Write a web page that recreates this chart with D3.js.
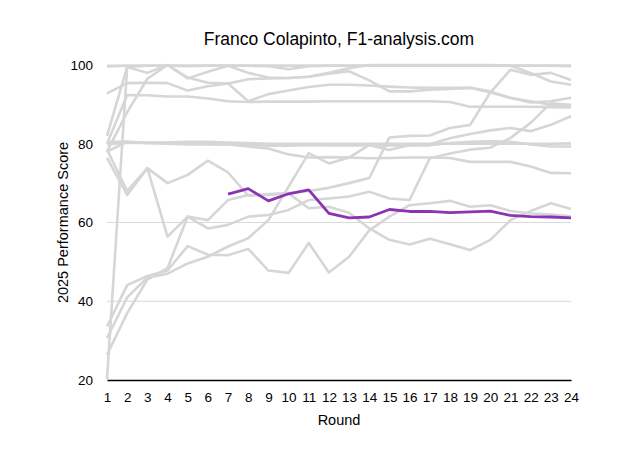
<!DOCTYPE html>
<html>
<head>
<meta charset="utf-8">
<script src="https://cdn.jsdelivr.net/npm/d3@7"></script>
<style>
  body { margin: 0; background: #fff; }
  text { font-family: "Liberation Sans", Arial, sans-serif; fill: #000; }
</style>
</head>
<body>
<div id="chart"></div>
<script>
// rounds on the x axis
var rounds = d3.range(1, 25);
var yTicks = [20, 40, 60, 80, 100];

// the highlighted driver (starts at round 7)
var colapinto = [null, null, null, null, null, null,
  67.2, 68.6, 65.5, 67.3, 68.3, 62.3, 61.2, 61.4, 63.3, 62.8, 62.8, 62.5, 62.7, 62.9, 61.8, 61.5, 61.4, 61.2];

// the rest of the field, one array per driver
var drv01 = [99.6, 99.8, 99.8, 99.8, 99.8, 99.8, 99.8, 99.8, 99.8, 99.8, 99.8, 99.8, 99.8, 99.8, 99.8, 99.8, 99.8, 99.8, 99.8, 99.8, 99.8, 99.8, 99.8, 99.7];
var drv02 = [20.2, 99.5, 99.8, 99.8, 99.7, 99.8, 99.8, 99.8, 99.7, 98.9, 99.7, 99.8, 99.8, 99.8, 99.8, 99.8, 99.8, 99.8, 99.8, 99.8, 99.8, 99.8, 99.8, 99.8];
var drv03 = [82.0, 99.5, 98.0, 100, 96.6, 98.3, 99.8, 98.0, 96.8, 96.7, 97.0, 98.0, 99.2, 100, 100, 100, 100, 100, 100, 100, 99.8, 98.0, 95.8, 95.0];
var drv04 = [92.8, 95.4, 95.5, 95.4, 93.5, 94.6, 95.3, 96.4, 96.6, 96.7, 97.0, 97.8, 98.4, 96.1, 93.3, 93.3, 93.7, 93.9, 94.2, 93.0, 91.7, 90.5, 90.8, 91.7];
var drv05 = [78.0, 88.0, 96.5, 100, 96.8, 95.5, 95.3, 90.8, 92.6, 93.5, 94.4, 95.0, 95.0, 94.8, 94.5, 94.3, 94.2, 94.2, 94.2, 93.3, 91.6, 90.8, 89.9, 89.5];
var drv06 = [80.0, 92.4, 92.3, 92.0, 92.0, 91.5, 90.8, 90.6, 90.7, 90.7, 90.7, 90.8, 90.8, 90.8, 90.8, 90.8, 90.8, 90.6, 89.4, 89.4, 89.4, 89.4, 89.3, 89.2];
var drv07 = [80.5, 80.5, 80.3, 80.3, 80.5, 80.5, 80.3, 80.2, 80.0, 80.0, 80.0, 80.0, 80.0, 80.0, 80.0, 80.0, 80.0, 80.0, 80.0, 80.0, 80.0, 80.0, 80.0, 80.1];
var drv08 = [79.8, 80.3, 80.2, 80.0, 79.8, 79.8, 79.8, 79.8, 79.5, 79.5, 79.6, 79.6, 79.6, 79.6, 79.6, 79.6, 79.6, 80.2, 80.5, 80.6, 80.5, 79.8, 79.3, 79.3];
var drv09 = [78.0, 80.5, 80.2, 80.2, 80.3, 80.0, 79.8, 79.3, 78.8, 77.3, 76.5, 76.6, 76.5, 76.3, 76.4, 76.5, 76.5, 76.4, 75.4, 75.4, 75.4, 74.2, 72.6, 72.5];
var drv10 = [76.4, 67.0, 73.8, 70.0, 72.1, 75.7, 72.7, 66.8, 67.2, 67.4, 63.6, 64.0, 62.5, 58.5, 55.6, 54.4, 55.9, 54.5, 53.0, 55.6, 60.6, 62.9, 64.9, 63.4];
var drv11 = [78.5, 68.0, 73.8, 56.4, 61.5, 60.6, 65.7, 67.0, 67.0, 67.5, 68.0, 68.8, 70.0, 71.3, 81.6, 82.0, 82.1, 84.0, 84.8, 93.0, 98.8, 97.5, 98.0, 96.2];
var drv12 = [26.4, 37.0, 45.5, 48.4, 61.5, 58.5, 59.4, 61.5, 61.9, 63.2, 65.7, 66.1, 66.6, 67.8, 66.1, 65.7, 76.3, 77.5, 78.5, 79.0, 81.5, 85.3, 90.3, 89.9];
var drv13 = [30.6, 41.0, 46.0, 47.0, 49.6, 51.3, 53.9, 56.0, 60.6, 69.1, 77.6, 75.0, 76.5, 79.7, 78.4, 79.7, 79.9, 81.4, 82.5, 83.4, 84.0, 83.2, 84.8, 87.0];
var drv14 = [33.6, 44.1, 46.4, 47.8, 54.0, 51.8, 51.7, 53.3, 47.8, 47.2, 54.8, 47.3, 51.3, 58.0, 61.5, 64.4, 64.9, 65.5, 64.0, 64.4, 62.9, 62.3, 62.0, 61.6];

var field = [drv01, drv02, drv03, drv04, drv05, drv06, drv07,
  drv08, drv09, drv10, drv11, drv12, drv13, drv14];

var WIDTH = 625;
var HEIGHT = 463;
var margin = { left: 107, right: 54, top: 65, bottom: 83 };
var width = WIDTH - margin.left - margin.right;
var height = HEIGHT - margin.top - margin.bottom;

var svg = d3.select("#chart").append("svg")
    .attr("width", WIDTH)
    .attr("height", HEIGHT);

var g = svg.append("g")
    .attr("transform", "translate(" + margin.left + "," + margin.top + ")");

var xScale = d3.scaleLinear().domain([1, 24]).range([0, width]);
var yScale = d3.scaleLinear().domain([20, 100]).range([height, 0]);

// horizontal grid
g.append("g")
    .selectAll("line")
    .data(yTicks.filter(function(d) { return d > 20; }))
    .enter().append("line")
    .attr("x1", 0)
    .attr("x2", width)
    .attr("y1", function(d) { return yScale(d); })
    .attr("y2", function(d) { return yScale(d); })
    .attr("stroke", "#d9d9d9")
    .attr("stroke-width", 1);

var line = d3.line()
    .defined(function(d) { return d != null; })
    .x(function(d, i) { return xScale(rounds[i]); })
    .y(function(d) { return yScale(d); });

g.selectAll(".driver")
    .data(field)
    .enter().append("path")
    .attr("class", "driver")
    .attr("d", line)
    .attr("fill", "none")
    .attr("stroke", "#d6d6d6")
    .attr("stroke-width", 2.6)
    .attr("stroke-linejoin", "round");

g.append("path")
    .datum(colapinto)
    .attr("d", line)
    .attr("fill", "none")
    .attr("stroke", "#8b34b3")
    .attr("stroke-width", 2.8)
    .attr("stroke-linejoin", "round");

// axes
var xAxis = d3.axisBottom(xScale).tickValues(rounds).tickSize(0).tickPadding(12)
    .tickFormat(d3.format("d"));
var yAxis = d3.axisLeft(yScale).tickValues(yTicks).tickSize(0).tickPadding(14);

var gx = g.append("g")
    .attr("transform", "translate(0," + height + ")")
    .call(xAxis);
gx.select(".domain").attr("stroke", "#000").attr("stroke-width", 1.6);
gx.selectAll("text").style("font-size", "13.5px").style("font-family", "Liberation Sans, Arial, sans-serif");

var gy = g.append("g").call(yAxis);
gy.select(".domain").remove();
gy.selectAll("text").style("font-size", "13.5px").style("font-family", "Liberation Sans, Arial, sans-serif");

// titles
svg.append("text")
    .attr("x", margin.left + width / 2)
    .attr("y", 45)
    .attr("text-anchor", "middle")
    .style("font-size", "17.5px")
    .text("Franco Colapinto, F1-analysis.com");

svg.append("text")
    .attr("x", margin.left + width / 2)
    .attr("y", 425)
    .attr("text-anchor", "middle")
    .style("font-size", "14.5px")
    .text("Round");

svg.append("text")
    .attr("transform", "translate(68," + (margin.top + height / 2) + ") rotate(-90)")
    .attr("text-anchor", "middle")
    .style("font-size", "14.5px")
    .text("2025 Performance Score");
</script>
</body>
</html>
